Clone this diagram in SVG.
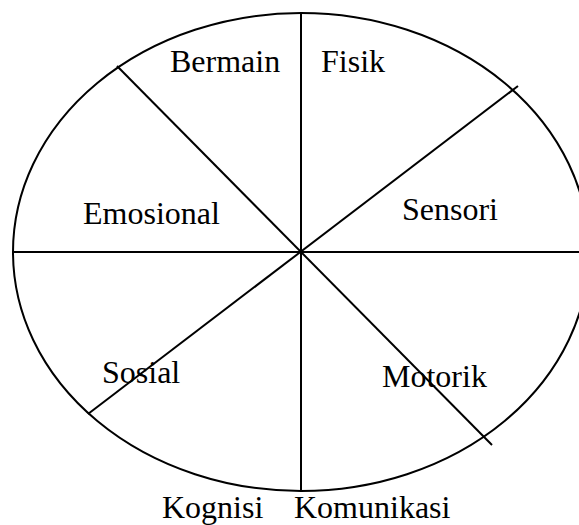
<svg xmlns="http://www.w3.org/2000/svg" width="579" height="525" viewBox="0 0 579 525">
<style>
.ln{stroke:#000;stroke-width:2;fill:none}
</style>
<rect width="579" height="525" fill="#fff"/>
<g id="ellipse"><ellipse class="ln" cx="301" cy="252" rx="288" ry="239"/></g>
<g id="connectors">
<line class="ln" x1="301" y1="13" x2="301" y2="491"/>
<line class="ln" x1="13" y1="252" x2="579" y2="252"/>
<line class="ln" x1="117" y1="66" x2="492" y2="445"/>
<line class="ln" x1="518" y1="86" x2="88" y2="414"/>
</g>
<g font-family="Liberation Serif, serif" font-size="32" fill="#000">
<g id="bermain"><text x="170" y="72">Bermain</text></g>
<g id="fisik"><text x="321" y="72">Fisik</text></g>
<g id="emosional"><text x="83" y="224">Emosional</text></g>
<g id="sensori"><text x="402" y="220">Sensori</text></g>
<g id="sosial"><text x="102" y="383">Sosial</text></g>
<g id="motorik"><text x="382" y="387">Motorik</text></g>
<g id="kognisi"><text x="162" y="518">Kognisi</text></g>
<g id="komunikasi"><text x="294" y="518">Komunikasi</text></g>
</g>
</svg>
